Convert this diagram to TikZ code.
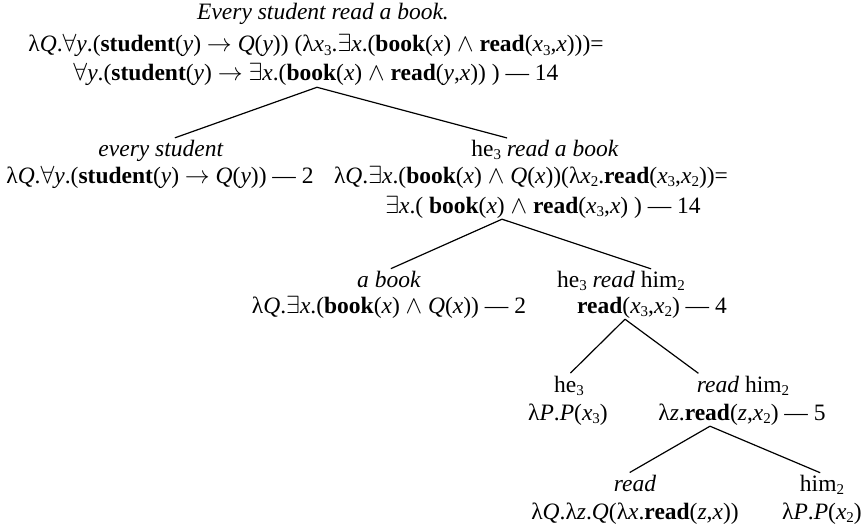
\documentclass[tikz,border=0pt]{standalone}
\usepackage{fontspec}
\setmainfont{Liberation Serif}
\newcommand\V[1]{\textit{#1}}
\newcommand\sbs[1]{\raisebox{-0.16em}{\fontsize{15}{15}\selectfont #1}}
\newcommand\fa{$\forall$}
\newcommand\ex{$\exists$}
\begin{document}
\begin{tikzpicture}[x=1pt,y=-1pt,
    lbl/.style={anchor=base,inner sep=1pt,font=\fontsize{23.5}{28}\selectfont},
    branch/.style={line width=1.2pt,shorten >=2pt}]
\useasboundingbox (0,0) rectangle (862,527);
% whole sentence
\node[lbl] (s1) at (323,20) {\textit{Every student read a book.}};
\node[lbl] (s2) at (316,52) {λ\V{Q}.\fa\V{y}.(\textbf{student}(\V{y}) $\rightarrow$ \V{Q}(\V{y})) (λ\V{x}\sbs{3}.\ex\V{x}.(\textbf{book}(\V{x}) $\wedge$ \textbf{read}(\V{x}\sbs{3},\V{x})))=};
\node[lbl] (s3) at (316,81) {\fa\V{y}.(\textbf{student}(\V{y}) $\rightarrow$ \ex\V{x}.(\textbf{book}(\V{x}) $\wedge$ \textbf{read}(\V{y},\V{x})) ) --- 14};
% subject
\node[lbl] (es1) at (161,156) {\textit{every student}};
\node[lbl] (es2) at (160,183) {λ\V{Q}.\fa\V{y}.(\textbf{student}(\V{y}) $\rightarrow$ \V{Q}(\V{y})) --- 2};
% verb phrase with trace
\node[lbl] (hb1) at (545,156) {he\sbs{3} \textit{read a book}};
\node[lbl] (hb2) at (531,183) {λ\V{Q}.\ex\V{x}.(\textbf{book}(\V{x}) $\wedge$ \V{Q}(\V{x}))(λ\V{x}\sbs{2}.\textbf{read}(\V{x}\sbs{3},\V{x}\sbs{2}))=};
\node[lbl] (hb3) at (543,213) {\ex\V{x}.( \textbf{book}(\V{x}) $\wedge$ \textbf{read}(\V{x}\sbs{3},\V{x}) ) --- 14};
% object
\node[lbl] (ab1) at (389,287) {\textit{a book}};
\node[lbl] (ab2) at (389,313) {λ\V{Q}.\ex\V{x}.(\textbf{book}(\V{x}) $\wedge$ \V{Q}(\V{x})) --- 2};
\node[lbl] (hr1) at (621,287) {he\sbs{3} \textit{read} him\sbs{2}};
\node[lbl] (hr2) at (652,313) {\textbf{read}(\V{x}\sbs{3},\V{x}\sbs{2}) --- 4};
% pronoun and verb phrase
\node[lbl] (he1) at (569,392) {he\sbs{3}};
\node[lbl] (he2) at (568,420) {λ\V{P}.\V{P}(\V{x}\sbs{3})};
\node[lbl] (rh1) at (743,392) {\textit{read} him\sbs{2}};
\node[lbl] (rh2) at (742,420) {λ\V{z}.\textbf{read}(\V{z},\V{x}\sbs{2}) --- 5};
% leaves
\node[lbl] (rd1) at (635,491) {\textit{read}};
\node[lbl] (rd2) at (635,519) {λ\V{Q}.λ\V{z}.\V{Q}(λ\V{x}.\textbf{read}(\V{z},\V{x}))};
\node[lbl] (hm1) at (822,491) {him\sbs{2}};
\node[lbl] (hm2) at (822,519) {λ\V{P}.\V{P}(\V{x}\sbs{2})};
% branches
\draw[branch] ([xshift=1pt]s3.south) -- ([xshift=12pt]es1.north);
\draw[branch] ([xshift=1pt]s3.south) -- ([xshift=-36pt]hb1.north);
\draw[branch] ([xshift=-41pt]hb3.south) -- (ab1.north);
\draw[branch] ([xshift=-41pt]hb3.south) -- ([xshift=32pt]hr1.north);
\draw[branch] ([xshift=-27pt]hr2.south) -- (he1.north);
\draw[branch] ([xshift=-27pt]hr2.south) -- ([xshift=-43pt]rh1.north);
\draw[branch] ([xshift=-32pt]rh2.south) -- ([xshift=-7pt]rd1.north);
\draw[branch] ([xshift=-32pt]rh2.south) -- (hm1.north);
\end{tikzpicture}
\end{document}
